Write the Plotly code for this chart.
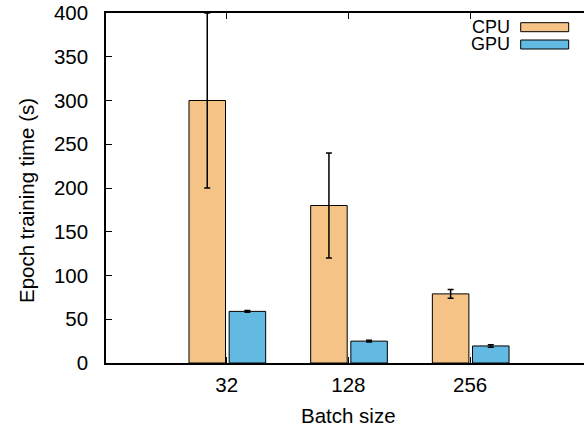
import plotly.graph_objects as go

# ---- data ----
batch_sizes = ["32", "128", "256"]
cpu_time = [300, 180, 79]
cpu_err = [100, 60, 5]
gpu_time = [59, 25, 19.5]
gpu_err = [1, 1, 1.5]
series_names = ["CPU", "GPU"]
y_ticks = [0, 50, 100, 150, 200, 250, 300, 350, 400]

cpu_color = "#F6C387"
gpu_color = "#62B9E1"
FONT = "Liberation Sans, Arial, Helvetica, sans-serif"
FS = 20.5

W, H = 584, 427
ML, MT, MB, MR = 106, 13, 64, 0

xpos = list(range(len(batch_sizes)))

fig = go.Figure()
fig.add_trace(go.Bar(
    x=xpos, y=cpu_time, name=series_names[0], width=0.3, offset=-0.31,
    marker=dict(color=cpu_color, line=dict(color="black", width=1)),
    error_y=dict(type="data", array=cpu_err, color="black", thickness=1.5, width=3),
))
fig.add_trace(go.Bar(
    x=xpos, y=gpu_time, name=series_names[1], width=0.3, offset=0.02,
    marker=dict(color=gpu_color, line=dict(color="black", width=1)),
    error_y=dict(type="data", array=gpu_err, color="black", thickness=1.5, width=3),
))

# custom legend (text left of sample, gnuplot style)
pw = W - ML - MR
ph = H - MT - MB
def px_x(p):
    return (p - ML) / pw
def px_y(p):
    return (H - MB - p) / ph

legend_rows = [(series_names[0], cpu_color, 22.7, 31.7), (series_names[1], gpu_color, 40, 49)]
shapes = []
annotations = []
for name, col, y0, y1 in legend_rows:
    shapes.append(dict(type="rect", xref="paper", yref="paper",
                       x0=px_x(520.7), x1=px_x(568.7), y0=px_y(y1), y1=px_y(y0),
                       fillcolor=col, line=dict(color="black", width=1)))
    annotations.append(dict(xref="paper", yref="paper", x=px_x(511), y=px_y((y0 + y1) / 2),
                            text=name, showarrow=False, xanchor="right", yanchor="middle",
                            borderpad=0,
                            font=dict(family=FONT, size=18, color="black")))

# axis titles
annotations.append(dict(xref="x", yref="paper", x=1, y=0, yshift=-52, text="Batch size",
                        showarrow=False, xanchor="center", yanchor="middle",
                        font=dict(family=FONT, size=FS, color="black")))
annotations.append(dict(xref="paper", yref="paper", x=0, xshift=-80, y=px_y(201),
                        text="Epoch training time (s)", textangle=-90,
                        showarrow=False, xanchor="center", yanchor="middle",
                        font=dict(family=FONT, size=FS, color="black")))

fig.update_layout(
    width=W, height=H,
    margin=dict(l=ML, r=MR, t=MT, b=MB, pad=0),
    plot_bgcolor="white", paper_bgcolor="white",
    barmode="overlay", showlegend=False,
    shapes=shapes, annotations=annotations,
    font=dict(family=FONT, size=FS, color="black"),
)
fig.update_xaxes(
    range=[-0.992, 2.936], tickvals=xpos, ticktext=batch_sizes,
    showgrid=False, zeroline=False, showline=True, linecolor="black", linewidth=1.5,
    mirror="ticks", ticks="inside", ticklen=6, tickwidth=1, tickcolor="black",
    ticklabelstandoff=3, tickfont=dict(family=FONT, size=FS),
)
fig.update_yaxes(
    range=[0, 400], tickvals=y_ticks,
    showgrid=False, zeroline=False, showline=True, linecolor="black", linewidth=1.5,
    ticks="inside", ticklen=6, tickwidth=1, tickcolor="black",
    ticklabelstandoff=12, tickfont=dict(family=FONT, size=FS),
)

fig.write_html(
    "out.html",
    config={"displayModeBar": False},
    post_script="document.body.style.margin='0';document.body.style.padding='0';document.body.style.overflow='hidden';",
)
